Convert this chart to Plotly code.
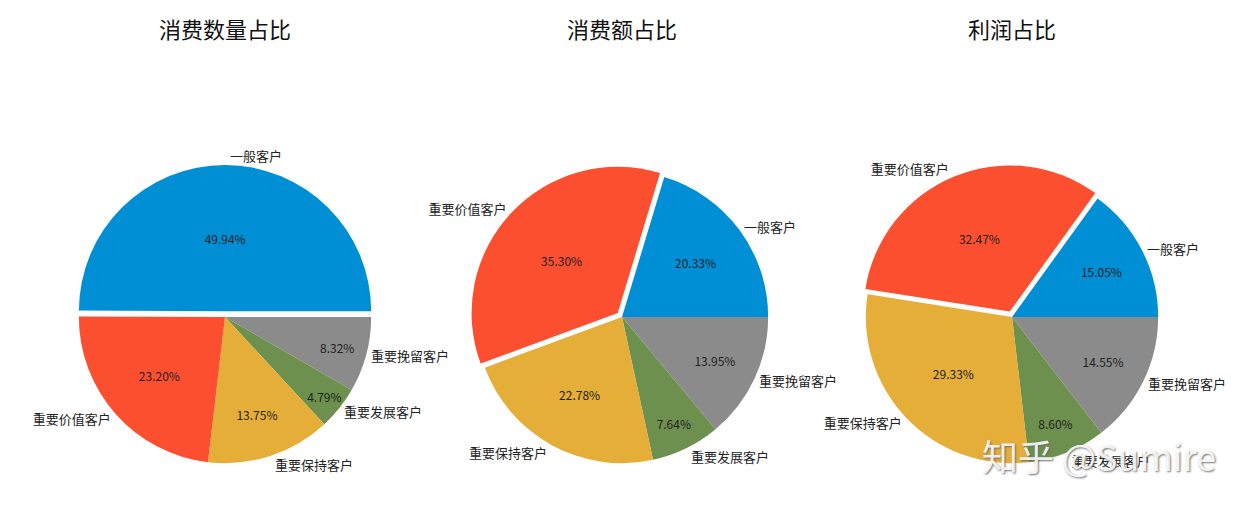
import plotly.graph_objects as go

categories = ["一般客户", "重要价值客户", "重要保持客户", "重要发展客户", "重要挽留客户"]
count_share = [49.94, 23.20, 13.75, 4.79, 8.32]
sales_share = [20.33, 35.30, 22.78, 7.64, 13.95]
profit_share = [15.05, 32.47, 29.33, 8.60, 14.55]
titles = ["消费数量占比", "消费额占比", "利润占比"]
explode_index = [0, 1, 1]

colors = ["#008fd5", "#fc4f30", "#e5ae38", "#6d904f", "#8b8b8b"]
FONT = "Noto Sans CJK SC, SimHei, sans-serif"

W, H = 1255, 505
centers_x = [225, 622, 1012]
center_y = 317
half = 152
PULL = 0.04

fig = go.Figure()
for i, vals in enumerate([count_share, sales_share, profit_share]):
    cx = centers_x[i]
    dom = dict(x=[(cx - half) / W, (cx + half) / W],
               y=[1 - (center_y + half) / H, 1 - (center_y - half) / H])
    pull = [PULL if j == explode_index[i] else 0 for j in range(len(vals))]
    # matplotlib draws counter-clockwise from 3 o'clock; same layout = reversed order drawn clockwise
    common = dict(labels=categories[::-1], values=vals[::-1], sort=False, direction="clockwise",
                  rotation=90, pull=pull[::-1], domain=dom, showlegend=False, hoverinfo="skip")
    fig.add_trace(go.Pie(**common,
                         marker=dict(colors=colors[::-1], line=dict(width=0)),
                         textinfo="label", textposition="outside",
                         outsidetextfont=dict(family=FONT, size=13, color="#222")))
    fig.add_trace(go.Pie(**common,
                         marker=dict(colors=["rgba(0,0,0,0)"] * len(vals), line=dict(width=0)),
                         texttemplate="%{percent:.2%}", textposition="inside",
                         insidetextorientation="horizontal",
                         insidetextfont=dict(family=FONT, size=12, color="#222")))
    fig.add_annotation(text=titles[i], x=cx / W, y=1 - 28 / H, xref="paper", yref="paper",
                       showarrow=False, font=dict(family=FONT, size=22, color="#111"),
                       xanchor="center", yanchor="middle")

fig.add_annotation(text="知乎 @Sumire", x=1099 / W, y=1 - 455 / H, xref="paper", yref="paper",
                   showarrow=False, xanchor="center", yanchor="middle",
                   font=dict(family=FONT, size=36, color="rgba(255,255,255,0.9)",
                             shadow="1px 1px 2px #666"))

fig.update_layout(width=W, height=H, margin=dict(l=0, r=0, t=0, b=0),
                  paper_bgcolor="white", plot_bgcolor="white",
                  uniformtext=dict(minsize=12, mode="show"))
fig.write_html("out.html", config={"displayModeBar": False},
               post_script="document.body.style.margin='0';")
